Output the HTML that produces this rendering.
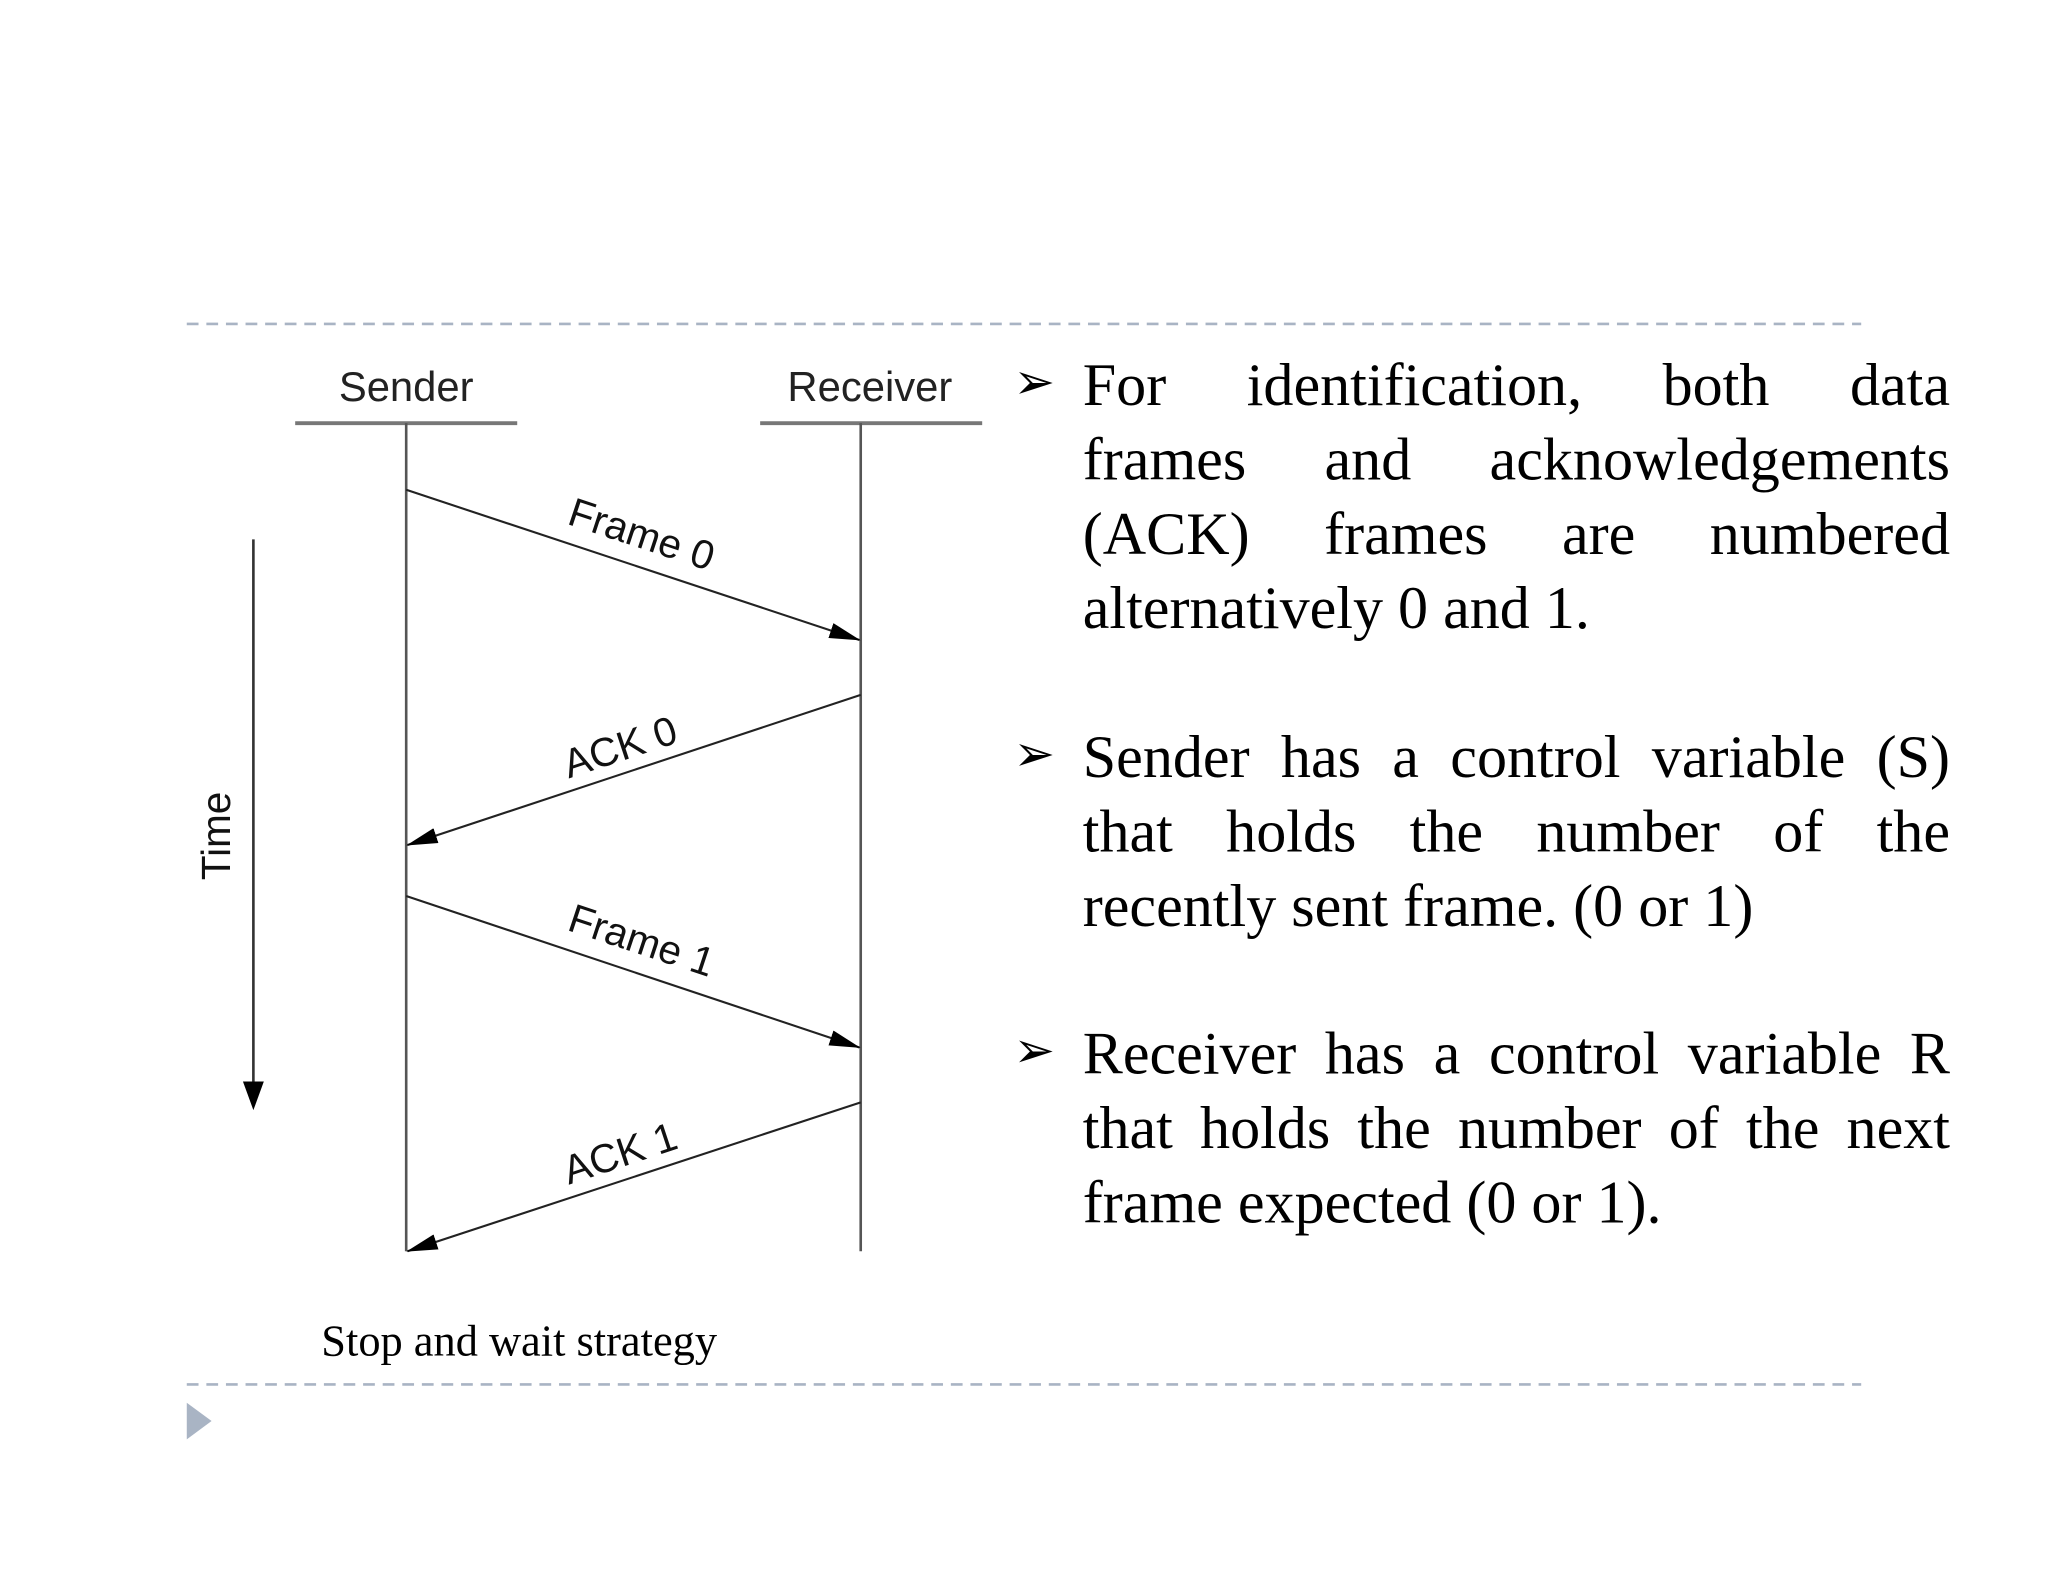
<!DOCTYPE html>
<html><head><meta charset="utf-8"><style>
html,body{margin:0;padding:0;background:#fff;}
#wrap{width:2048px;height:1582px;overflow:hidden;position:relative;}
#s{position:absolute;left:0;top:0;width:1568px;height:1211px;transform:scale(1.3061);transform-origin:0 0;}
.p{position:absolute;left:829px;width:664px;font-family:"Liberation Serif",serif;font-size:46px;line-height:57px;color:#000;}
.p div{text-align:justify;text-align-last:justify;white-space:nowrap;}
.p div.l{text-align-last:left;}
.b{position:absolute;left:776px;font-family:"DejaVu Sans",sans-serif;font-size:38px;font-weight:bold;color:#000;}
</style></head><body><div id="wrap"><div id="s">
<svg width="1568" height="1211" viewBox="0 0 1568 1211" style="position:absolute;left:0;top:0">
<defs><marker id="a" markerWidth="24" markerHeight="12" refX="23" refY="6" orient="auto" markerUnits="userSpaceOnUse"><path d="M0,0 L24,6 L0,12 z" fill="#000"/></marker></defs>
<line x1="143" y1="248" x2="1425" y2="248" stroke="#a9b4c4" stroke-width="2" stroke-dasharray="9,6"/>
<line x1="143" y1="1060" x2="1425" y2="1060" stroke="#a9b4c4" stroke-width="2" stroke-dasharray="9,6"/>
<path d="M143,1074 L162,1088 L143,1102 z" fill="#a9b4c4"/>
<g font-family="Liberation Sans,sans-serif" font-size="32" fill="#222">
<text x="311" y="307" text-anchor="middle">Sender</text>
<text x="666" y="307" text-anchor="middle">Receiver</text>
</g>
<line x1="226" y1="324" x2="396" y2="324" stroke="#777" stroke-width="3"/>
<line x1="582" y1="324" x2="752" y2="324" stroke="#777" stroke-width="3"/>
<line x1="311" y1="324" x2="311" y2="958" stroke="#555" stroke-width="2"/>
<line x1="659" y1="324" x2="659" y2="958" stroke="#555" stroke-width="2"/>
<g stroke="#222" stroke-width="1.6" fill="none">
<line x1="311" y1="375" x2="658" y2="490" marker-end="url(#a)"/>
<line x1="659" y1="532" x2="312" y2="647" marker-end="url(#a)"/>
<line x1="311" y1="686" x2="658" y2="802" marker-end="url(#a)"/>
<line x1="659" y1="844" x2="312" y2="958" marker-end="url(#a)"/>
</g>
<line x1="194" y1="413" x2="194" y2="830" stroke="#333" stroke-width="2"/>
<path d="M186,828 L202,828 L194,850 z" fill="#000"/>
<g font-family="Liberation Sans,sans-serif" font-size="31" fill="#111">
<text transform="translate(488,419) rotate(18.3)" text-anchor="middle">Frame 0</text>
<text transform="translate(478,582) rotate(-18.3)" text-anchor="middle">ACK 0</text>
<text transform="translate(488,730) rotate(18.3)" text-anchor="middle">Frame 1</text>
<text transform="translate(478,893) rotate(-18.3)" text-anchor="middle">ACK 1</text>
<text transform="translate(176,640) rotate(-90)" text-anchor="middle">Time</text>
</g>
<text x="246" y="1038" font-family="Liberation Serif,serif" font-size="34" fill="#000">Stop and wait strategy</text>
</svg>
<div class="b" style="top:270px">➢</div>
<div class="p" style="top:266px"><div>For identification, both data</div><div>frames and acknowledgements</div><div>(ACK) frames are numbered</div><div class="l">alternatively 0 and 1.</div></div>
<div class="b" style="top:555px">➢</div>
<div class="p" style="top:551px"><div>Sender has a control variable (S)</div><div>that holds the number of the</div><div class="l">recently sent frame. (0 or 1)</div></div>
<div class="b" style="top:782px">➢</div>
<div class="p" style="top:778px"><div>Receiver has a control variable R</div><div>that holds the number of the next</div><div class="l">frame expected (0 or 1).</div></div>
</div></div></body></html>
